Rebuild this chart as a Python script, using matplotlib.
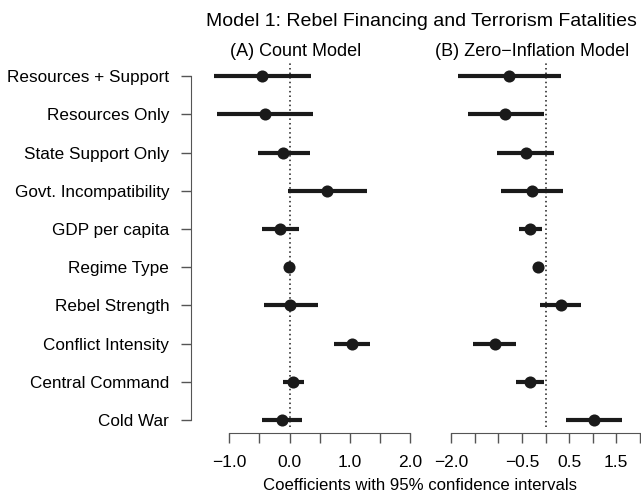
import numpy as np
import matplotlib.pyplot as plt

plt.rcParams['font.family'] = ['Liberation Sans', 'DejaVu Sans']

labels = ["Resources + Support", "Resources Only", "State Support Only",
          "Govt. Incompatibility", "GDP per capita", "Regime Type",
          "Rebel Strength", "Conflict Intensity", "Central Command", "Cold War"]

# (A) count model
est_a = [-0.46, -0.41, -0.10, 0.62, -0.16, -0.01, 0.01, 1.03, 0.06, -0.13]
lo_a = [-1.25, -1.21, -0.52, -0.02, -0.45, -0.04, -0.43, 0.73, -0.11, -0.45]
hi_a = [0.35, 0.39, 0.34, 1.28, 0.15, 0.02, 0.47, 1.34, 0.24, 0.20]

# (B) zero-inflation model
est_b = [-0.78, -0.85, -0.42, -0.28, -0.32, -0.15, 0.32, -1.07, -0.33, 1.03]
lo_b = [-1.85, -1.64, -1.02, -0.94, -0.56, -0.20, -0.11, -1.53, -0.62, 0.44]
hi_b = [0.32, -0.04, 0.17, 0.37, -0.08, -0.11, 0.75, -0.63, -0.04, 1.62]

ticks_a = [-1.0, -0.5, 0.0, 0.5, 1.0, 1.5, 2.0]
ticklabels_a = ["\u22121.0", "", "0.0", "", "1.0", "", "2.0"]
ticks_b = [-2.0, -1.5, -1.0, -0.5, 0.0, 0.5, 1.0, 1.5, 2.0]
ticklabels_b = ["\u22122.0", "", "", "\u22120.5", "", "0.5", "", "1.5", ""]

W, H = 641, 494
fig = plt.figure(figsize=(W / 100, H / 100), dpi=100)

def px_box(left, right, top, bottom):
    return [left / W, 1 - bottom / H, (right - left) / W, (bottom - top) / H]

ink = "#1a1a1a"
axis_col = "#555555"
rows = np.arange(1, len(labels) + 1)

def draw_panel(ax, est, lo, hi, xlim, ticks, ticklabels, lo_bound, hi_bound):
    ax.hlines(rows, lo, hi, color=ink, lw=3.0, zorder=2)
    ax.plot(est, rows, 'o', color=ink, ms=8.7, mew=0, zorder=3)
    ax.axvline(0, ymin=0.015, ymax=1, color=ink, ls=(0, (1, 2)), lw=1.1, zorder=1)
    ax.set_xlim(xlim)
    ax.set_ylim(10.34, 0.626)
    for s in ['top', 'right', 'left']:
        ax.spines[s].set_visible(False)
    ax.spines['bottom'].set_bounds(lo_bound, hi_bound)
    ax.spines['bottom'].set_color(axis_col)
    ax.set_xticks(ticks)
    ax.set_xticklabels(ticklabels, fontsize=12.5)
    ax.tick_params(axis='x', length=7.5, width=1, color=axis_col, pad=8)
    ax.set_facecolor('none')

ax_a = fig.add_axes(px_box(190.7, 420, 62, 433))
ax_b = fig.add_axes(px_box(440, 641, 62, 433))

draw_panel(ax_a, est_a, lo_a, hi_a, ((190.7 - 289.5) / 60.3, (420 - 289.5) / 60.3),
           ticks_a, ticklabels_a, -1.0, 2.0)
draw_panel(ax_b, est_b, lo_b, hi_b, ((440 - 545.5) / 47.1, (641 - 545.5) / 47.1),
           ticks_b, ticklabels_b, -2.0, 2.0)

ax_a.spines['left'].set_visible(True)
ax_a.spines['left'].set_bounds(1, 10)
ax_a.spines['left'].set_color(axis_col)
ax_a.set_yticks(rows)
ax_a.set_yticklabels(labels, fontsize=12.3)
ax_a.tick_params(axis='y', length=7.5, width=1, color=axis_col, pad=8)
ax_b.set_yticks([])

fig.text(421 / W, 1 - 22 / H, "Model 1: Rebel Financing and Terrorism Fatalities",
         ha='center', va='center', fontsize=14)
fig.text(296 / W, 1 - 52 / H, "(A) Count Model", ha='center', va='center', fontsize=13)
fig.text(532 / W, 1 - 52 / H, "(B) Zero\u2212Inflation Model", ha='center', va='center',
         fontsize=13)
fig.text(420 / W, 1 - 485 / H, "Coefficients with 95% confidence intervals",
         ha='center', va='center', fontsize=12.1)

fig.savefig("out.png", dpi=100)
